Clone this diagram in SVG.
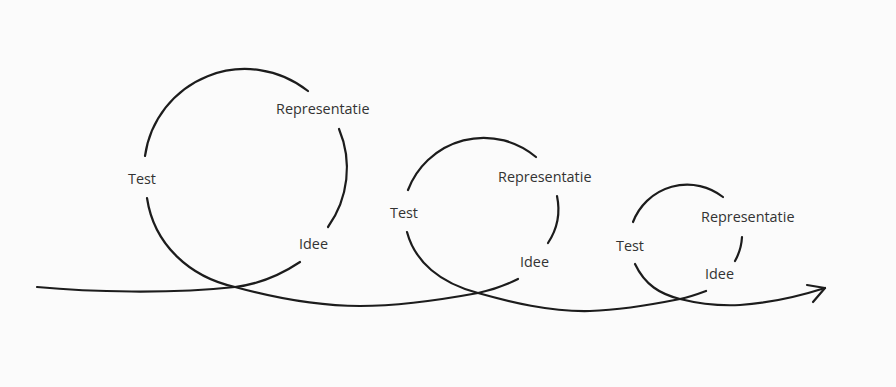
<svg xmlns="http://www.w3.org/2000/svg" width="896" height="387" viewBox="0 0 896 387">
  <style>
    .ln { fill: none; stroke: #1c1c1c; stroke-width: 2.2; stroke-linecap: round; stroke-linejoin: round; }
    .lb { font-family: "Open Sans", "Liberation Sans", sans-serif; font-size: 14.4px; fill: #333333; }
  </style>
  <rect x="0" y="0" width="896" height="387" fill="#fbfbfb"/>
  <g id="connectors">
    <path class="ln" d="M37,287 C90,292 170,294 235,287 C260,284 282,274 300,262"/>
    <path class="ln" d="M147,198 C154,245 190,277 235,287 C275,298 320,306 360,306 C400,306 440,300 478,293 C492,290 506,285 518,279"/>
    <path class="ln" d="M407,232 C415,262 440,283 478,293 C510,302 550,312 590,311 C620,310 650,305 680,299 C690,297 698,294 706,291"/>
    <path class="ln" d="M635,264 C645,285 660,294 680,299 C700,304 720,306 740,305 C770,303 800,296 825,288"/>
    <path class="ln" d="M807,285 L825,288 L813,302"/>
  </g>
  <g id="loop1">
    <path class="ln" d="M145,156 A101,101 0 0 1 308,91"/>
    <path class="ln" d="M339,129 A101,101 0 0 1 328,227"/>
    <text class="lb" x="276" y="114">Representatie</text>
    <text class="lb" x="128" y="184">Test</text>
    <text class="lb" x="299" y="249">Idee</text>
  </g>
  <g id="loop2">
    <path class="ln" d="M408,190 A81,81 0 0 1 536,157"/>
    <path class="ln" d="M557,196 A62,62 0 0 1 548,243"/>
    <text class="lb" x="498" y="182">Representatie</text>
    <text class="lb" x="390" y="218">Test</text>
    <text class="lb" x="520" y="267">Idee</text>
  </g>
  <g id="loop3">
    <path class="ln" d="M633,222 A58,58 0 0 1 723,197"/>
    <path class="ln" d="M742,237 A55,55 0 0 1 735,261"/>
    <text class="lb" x="701" y="222">Representatie</text>
    <text class="lb" x="616" y="251">Test</text>
    <text class="lb" x="705" y="279">Idee</text>
  </g>
</svg>
